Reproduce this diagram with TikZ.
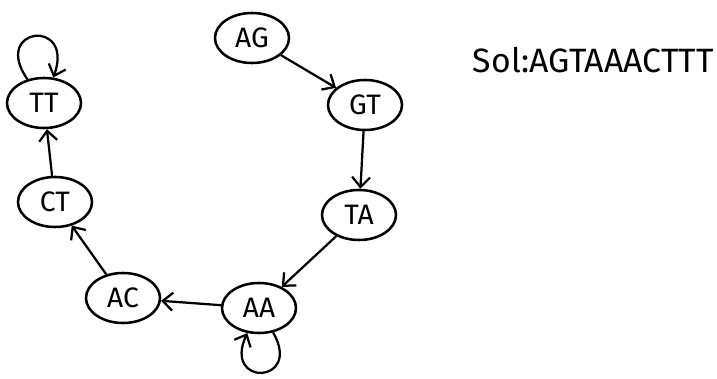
\documentclass[tikz,border=0pt]{standalone}
\usepackage{fontspec}
\setmainfont{Fira Sans}
\usepackage{tikz}
\usetikzlibrary{arrows.meta,shapes.geometric}

\tikzset{
	kmer/.style={draw, ellipse, line width=1.8pt, minimum width=1.85cm, minimum height=1.25cm, inner sep=0pt, font=\fontsize{20}{24}\selectfont},
	arr/.style={line width=1.6pt, -{Straight Barb[length=2.5mm,width=4.5mm,line width=1.6pt]}}
}

\begin{document}
\begin{tikzpicture}[x=0.025cm, y=-0.025cm]
				\useasboundingbox (0,0) rectangle (717,379);
				% k-mer nodes, pixel positions
				\foreach \x/\y/\z in
				{AG/252/38, GT/365/105, TA/359/215, AA/259/308, AC/123/298, CT/55/202, TT/44/103}{
					\node[kmer] (\x) at (\y,\z) {\x};
				}
				
				% path through the graph
				\foreach \x/\y in
				{AG/GT, GT/TA, TA/AA, AA/AC, AC/CT, CT/TT}{
					\draw[arr] (\x)--(\y);
				}
				
				% self loops
				\draw[arr] (TT) to[out=125, in=70, min distance=1.6cm] (TT);
				\draw[arr] (AA) to[out=-60, in=-115, min distance=1.5cm] (AA);
				
				\node[font=\fontsize{24}{28}\selectfont, anchor=west] (sol) at (468,60) {Sol:AGTAAACTTT};
			\end{tikzpicture}
\end{document}
